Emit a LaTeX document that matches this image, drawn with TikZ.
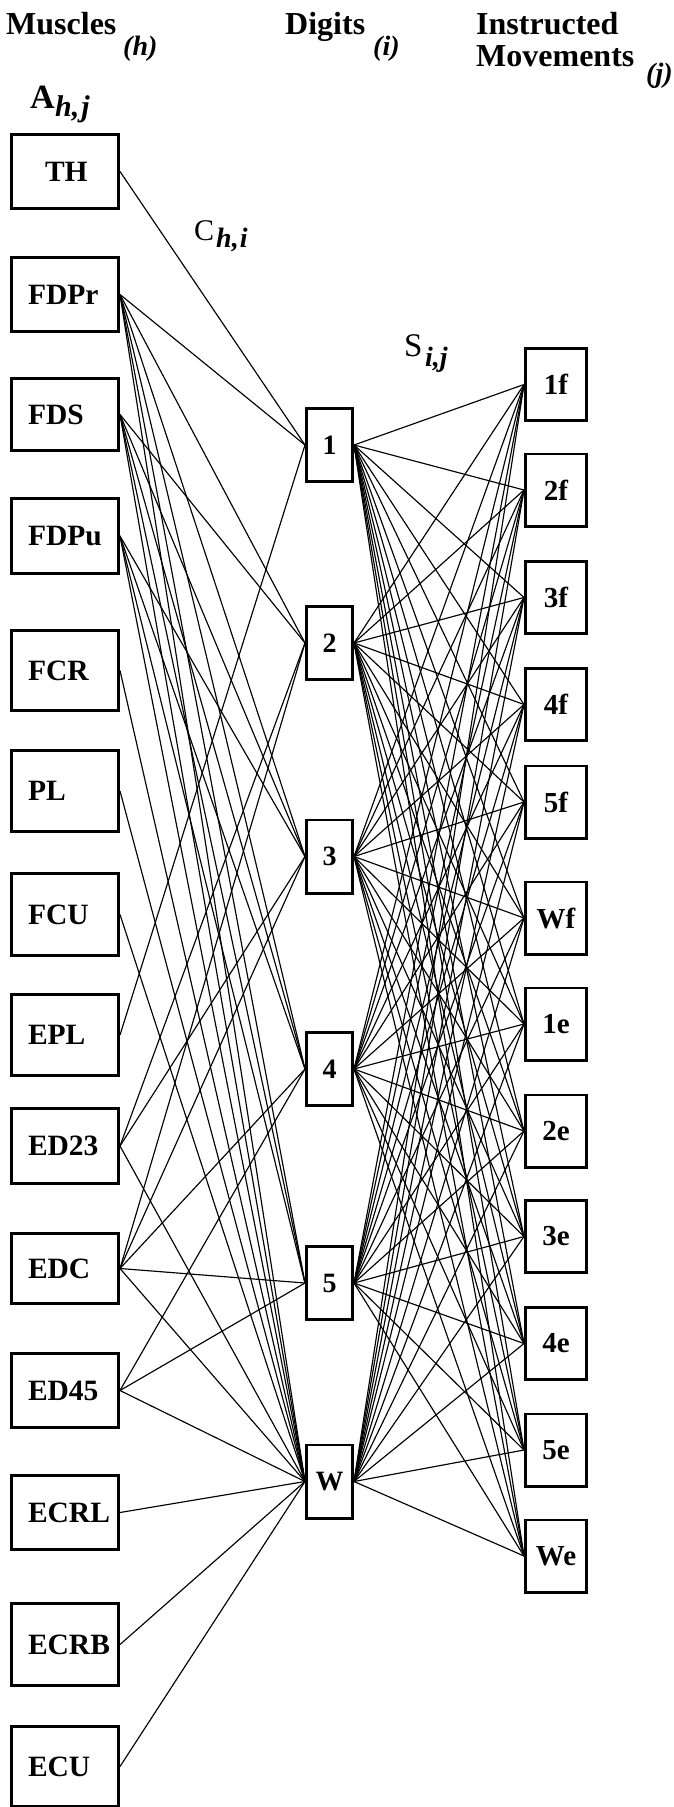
\documentclass[tikz,border=0pt]{standalone}
\usepackage{fontspec}
\setmainfont{Liberation Serif}
\begin{document}
\begin{tikzpicture}[x=1pt,y=-1pt,
  box/.style={draw, line width=2.6pt, inner sep=0pt},
  mbox/.style={box, minimum width=107.4pt, text width=74pt, inner xsep=16.7pt,
    align=left, font=\fontsize{29.5}{30}\selectfont\bfseries},
  dbox/.style={box, minimum width=46.4pt, minimum height=73.4pt,
    font=\fontsize{28}{28}\selectfont\bfseries},
  jbox/.style={box, minimum width=61.4pt, minimum height=72.4pt,
    font=\fontsize{29}{29}\selectfont\bfseries},
  hdr/.style={inner sep=0pt, anchor=base west, font=\fontsize{32}{32}\selectfont\bfseries},
  sub/.style={inner sep=0pt, anchor=base west, font=\fontsize{28}{28}\selectfont\bfseries\itshape},
  link/.style={line width=1.15pt}]

\clip (0,0) rectangle (673,1807);
\fill[white] (0,0) rectangle (673,1807);

% column headings
\node[hdr] (muscles) at (6,34) {Muscles};
\node[sub] (hsub) at (123,55) {(h)};
\node[hdr] (digits) at (285,34) {Digits};
\node[sub] (isub) at (373,55) {(i)};
\node[hdr] (instr) at (476,34) {Instructed};
\node[hdr] (movs) at (476,66) {Movements};
\node[sub] (jsub) at (646,82) {(j)};

% matrix names
\node[inner sep=0pt, anchor=base west, font=\fontsize{34}{34}\selectfont\bfseries] (amat) at (30,108) {A};
\node[sub, font=\fontsize{30}{30}\selectfont\bfseries\itshape] (amatsub) at (55,116) {h,\kern2pt j};
\node[inner sep=0pt, anchor=base west, font=\fontsize{30}{30}\selectfont] (cmat) at (194,240) {C};
\node[sub] (cmatsub) at (216,247) {h,\kern1pt i};
\node[inner sep=0pt, anchor=base west, font=\fontsize{33}{33}\selectfont] (smat) at (404,356) {S};
\node[sub] (smatsub) at (425,366) {i,j};

% muscles: name / top / bottom / label
\foreach \n/\t/\b/\l in {
  TH/133/210/{\hspace*{17pt}TH},
  FDPr/256/333/FDPr,
  FDS/377/452/FDS,
  FDPu/497/575/FDPu,
  FCR/629/712/FCR,
  PL/749/833/PL,
  FCU/872/957/FCU,
  EPL/993/1077/EPL,
  ED23/1107/1185/ED23,
  EDC/1232/1305/EDC,
  ED45/1352/1429/ED45,
  ECRL/1474/1551/ECRL,
  ECRB/1602/1687/ECRB,
  ECU/1725/1808/ECU} {
  \pgfmathsetmacro\mhh{\b-\t-2.6}
  \pgfmathsetmacro\mcy{(\t+\b)/2}
  \node[mbox, minimum height=\mhh pt] (\n) at (65,\mcy) {\l};
}

% digits
\foreach \n/\y/\l in {d1/445/1, d2/643/2, d3/856.5/3, d4/1069/4, d5/1283/5, dW/1481.5/W} {
  \node[dbox] (\n) at (329.5,\y) {\l};
}

% instructed movements
\foreach \n/\y/\l in {m1f/384.5/1f, m2f/490/2f, m3f/597.5/3f, m4f/704.5/4f, m5f/802/5f,
  mWf/918/Wf, m1e/1024/1e, m2e/1131/2e, m3e/1236.5/3e, m4e/1343.5/4e, m5e/1450/5e, mWe/1556/We} {
  \node[jbox] (\n) at (556,\y) {\l};
}

% muscle-to-digit links
\foreach \a/\d in {TH/d1,
  FDPr/d1, FDPr/d2, FDPr/d3, FDPr/d4, FDPr/d5, FDPr/dW,
  FDS/d2, FDS/d3, FDS/d4, FDS/d5, FDS/dW,
  FDPu/d3, FDPu/d4, FDPu/d5, FDPu/dW,
  FCR/dW, PL/dW, FCU/dW,
  EPL/d1,
  ED23/d2, ED23/d3, ED23/dW,
  EDC/d2, EDC/d3, EDC/d4, EDC/d5, EDC/dW,
  ED45/d4, ED45/d5, ED45/dW,
  ECRL/dW, ECRB/dW, ECU/dW} {
  \draw[link] (\a.east) -- (\d.west);
}

% digit-to-movement links
\foreach \d in {d1,d2,d3,d4,d5,dW} {
  \foreach \m in {m1f,m2f,m3f,m4f,m5f,mWf,m1e,m2e,m3e,m4e,m5e,mWe} {
    \draw[link] (\d.east) -- (\m.west);
  }
}
\end{tikzpicture}
\end{document}
